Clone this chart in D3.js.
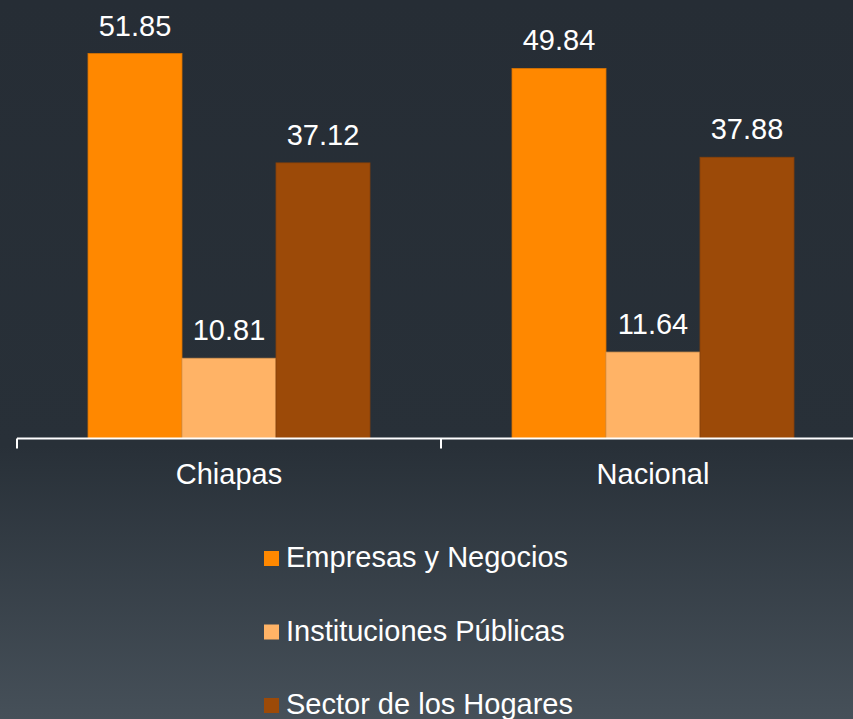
<!DOCTYPE html>
<html>
<head>
<meta charset="utf-8">
<script src="https://cdn.jsdelivr.net/npm/d3@7"></script>
<style>
  html, body { margin: 0; padding: 0; overflow: hidden; }
  svg { display: block; }
  text { font-family: "Liberation Sans", Arial, sans-serif; }
</style>
</head>
<body>
<svg id="chart" width="853" height="719"></svg>
<script>
var categories = ["Chiapas", "Nacional"];
var seriesNames = ["Empresas y Negocios", "Instituciones Públicas", "Sector de los Hogares"];
var empresas = [51.85, 49.84];
var instituciones = [10.81, 11.64];
var hogares = [37.12, 37.88];
var seriesColors = ["#ff8800", "#ffb366", "#9c4a08"];
var seriesStrokes = ["#d87200", "#d89650", "#86400a"];

var svg = d3.select("#chart");
var W = 853, H = 719;
var fontSize = "29px";

// background gradient
var defs = svg.append("defs");
var grad = defs.append("linearGradient")
    .attr("id", "bg")
    .attr("x1", 0).attr("y1", 0).attr("x2", 0).attr("y2", 1);
grad.append("stop").attr("offset", "0%").attr("stop-color", "#262d35");
grad.append("stop").attr("offset", "62%").attr("stop-color", "#283038");
grad.append("stop").attr("offset", "100%").attr("stop-color", "#465059");
svg.append("rect").attr("width", W).attr("height", H).attr("fill", "url(#bg)");

var table = seriesNames.map(function(name, i){
    var vals = [empresas, instituciones, hogares][i];
    return categories.map(function(c, j){ return {series: name, idx: i, cat: c, value: vals[j]}; });
});

var baseY = 438.5;
var x0 = d3.scaleBand()
    .domain(categories)
    .range([17, 17 + 424 * 2])
    .paddingInner(0)
    .paddingOuter(0);
var x1 = d3.scaleBand()
    .domain(seriesNames)
    .range([0, x0.bandwidth()])
    .paddingInner(0)
    .paddingOuter(71 / 94);
var y = d3.scaleLinear()
    .domain([0, 60])
    .range([baseY, baseY - 60 * 7.425]);

var g = svg.append("g");

table.forEach(function(rows){
    var grp = g.append("g");
    grp.selectAll("rect")
        .data(rows)
        .enter()
        .append("rect")
        .attr("x", function(d){ return x0(d.cat) + x1(d.series); })
        .attr("y", function(d){ return y(d.value); })
        .attr("width", x1.bandwidth())
        .attr("height", function(d){ return y(0) - y(d.value); })
        .attr("fill", function(d){ return seriesColors[d.idx]; })
        .attr("stroke", function(d){ return seriesStrokes[d.idx]; })
        .attr("stroke-width", 0.8);
    grp.selectAll("text")
        .data(rows)
        .enter()
        .append("text")
        .attr("x", function(d){ return x0(d.cat) + x1(d.series) + x1.bandwidth() / 2; })
        .attr("y", function(d){ return y(d.value) - 18; })
        .attr("text-anchor", "middle")
        .attr("fill", "#ffffff")
        .style("font-size", fontSize)
        .text(function(d){ return d.value.toFixed(2); });
});

// x axis
var axis = d3.axisBottom(x0).tickSize(0).tickPadding(0);
var axisG = svg.append("g")
    .attr("transform", "translate(0," + baseY + ")")
    .call(axis);
axisG.select(".domain").remove();
axisG.append("line")
    .attr("x1", 17).attr("x2", W)
    .attr("stroke", "#ffffff").attr("stroke-width", 2);
var boundaries = [0, 1, 2].map(function(i){ return 17 + i * x0.bandwidth(); });
axisG.selectAll(".bound")
    .data(boundaries)
    .enter()
    .append("line")
    .attr("class", "bound")
    .attr("x1", function(d){ return d; }).attr("x2", function(d){ return d; })
    .attr("y1", 0).attr("y2", 10)
    .attr("stroke", "#ffffff").attr("stroke-width", 2);
axisG.selectAll(".tick text")
    .attr("fill", "#ffffff")
    .attr("dy", 0)
    .attr("y", 45)
    .attr("font-family", null)
    .attr("font-size", null)
    .style("font-size", fontSize);

// legend
var legend = svg.append("g");
var item = legend.selectAll("g")
    .data(seriesNames)
    .enter()
    .append("g")
    .attr("transform", function(d, i){ return "translate(264," + (558 + i * 73.5) + ")"; });
item.append("rect")
    .attr("x", 0).attr("y", -7)
    .attr("width", 15).attr("height", 15)
    .attr("fill", function(d, i){ return seriesColors[i]; });
item.append("text")
    .attr("x", 22).attr("y", 9)
    .attr("fill", "#ffffff")
    .style("font-size", fontSize)
    .text(function(d){ return d; });
</script>
</body>
</html>
